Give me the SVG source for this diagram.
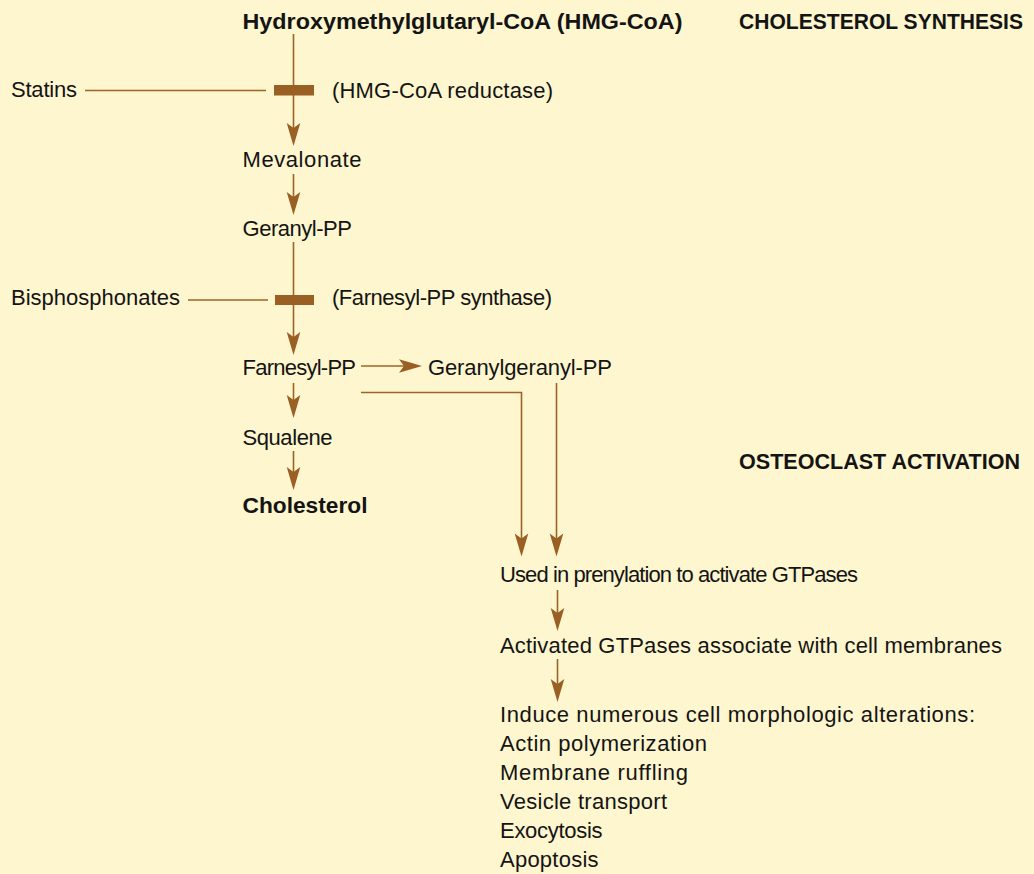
<svg xmlns="http://www.w3.org/2000/svg" width="1034" height="874" viewBox="0 0 1034 874">
<style>
  text { font-family: "Liberation Sans", Arial, sans-serif; font-size: 22px; fill: #141414; }
  .b { font-weight: bold; }
  .ln { stroke: #9C6426; stroke-width: 1.6; fill: none; }
  .bar { fill: #9A5F22; }
</style>
<defs>
  <marker id="ah" viewBox="-24 -8 26 16" refX="-10" refY="0" markerWidth="26" markerHeight="16" markerUnits="userSpaceOnUse" orient="auto">
    <path d="M0,0 L-23,-6.8 L-18,0 L-23,6.8 Z" fill="#9A5F22"/>
  </marker>
</defs>
<rect width="1034" height="874" fill="#FEF6CE"/>

<g id="connectors">
  <line class="ln" x1="293.5" y1="34" x2="293.5" y2="136" marker-end="url(#ah)"/>
  <line class="ln" x1="85" y1="90.5" x2="266" y2="90.5"/>
  <line class="ln" x1="293.5" y1="174" x2="293.5" y2="205" marker-end="url(#ah)"/>
  <line class="ln" x1="293.5" y1="242" x2="293.5" y2="345" marker-end="url(#ah)"/>
  <line class="ln" x1="188" y1="300" x2="268" y2="300"/>
  <line class="ln" x1="293.5" y1="383" x2="293.5" y2="408" marker-end="url(#ah)"/>
  <line class="ln" x1="293.5" y1="451" x2="293.5" y2="480" marker-end="url(#ah)"/>
  <line class="ln" x1="361" y1="366" x2="412" y2="366" marker-end="url(#ah)"/>
  <path class="ln" d="M361,392.5 H521.5 V546.5" marker-end="url(#ah)"/>
  <line class="ln" x1="556.5" y1="383" x2="556.5" y2="546.5" marker-end="url(#ah)"/>
  <line class="ln" x1="557.5" y1="590" x2="557.5" y2="621" marker-end="url(#ah)"/>
  <line class="ln" x1="557.5" y1="659" x2="557.5" y2="692" marker-end="url(#ah)"/>
</g>

<g id="inhibitors">
  <rect id="bar-hmg" class="bar" x="274" y="85" width="40" height="10.5"/>
  <rect id="bar-fpp" class="bar" x="275" y="295" width="39" height="10"/>
</g>

<g id="headers">
  <text class="b" x="739" y="29" textLength="284" lengthAdjust="spacingAndGlyphs">CHOLESTEROL SYNTHESIS</text>
  <text class="b" x="739" y="469" textLength="281" lengthAdjust="spacingAndGlyphs">OSTEOCLAST ACTIVATION</text>
</g>

<g id="hmgcoa"><text class="b" x="242.5" y="28.5" textLength="440" lengthAdjust="spacingAndGlyphs">Hydroxymethylglutaryl-CoA (HMG-CoA)</text></g>
<g id="statins"><text x="11" y="97" textLength="66" lengthAdjust="spacing">Statins</text></g>
<g id="hmg-reductase"><text x="332" y="97.5" textLength="221" lengthAdjust="spacing">(HMG-CoA reductase)</text></g>
<g id="mevalonate"><text x="242.5" y="167" textLength="119" lengthAdjust="spacing">Mevalonate</text></g>
<g id="geranyl-pp"><text x="242.5" y="236" textLength="109.5" lengthAdjust="spacing">Geranyl-PP</text></g>
<g id="bisphosphonates"><text x="11" y="305" textLength="169" lengthAdjust="spacing">Bisphosphonates</text></g>
<g id="fpp-synthase"><text x="332" y="305" textLength="220" lengthAdjust="spacing">(Farnesyl-PP synthase)</text></g>
<g id="farnesyl-pp"><text x="242.5" y="375" textLength="113.5" lengthAdjust="spacing">Farnesyl-PP</text></g>
<g id="geranylgeranyl-pp"><text x="428" y="375" textLength="184" lengthAdjust="spacing">Geranylgeranyl-PP</text></g>
<g id="squalene"><text x="242.5" y="445" textLength="90" lengthAdjust="spacing">Squalene</text></g>
<g id="cholesterol"><text class="b" x="242.5" y="513" textLength="125" lengthAdjust="spacingAndGlyphs">Cholesterol</text></g>
<g id="prenylation"><text x="500" y="582" textLength="358" lengthAdjust="spacing">Used in prenylation to activate GTPases</text></g>
<g id="gtpases"><text x="500" y="652.5" textLength="502" lengthAdjust="spacing">Activated GTPases associate with cell membranes</text></g>
<g id="alterations">
  <text x="500" y="722" textLength="475" lengthAdjust="spacing">Induce numerous cell morphologic alterations:</text>
  <text x="500" y="751" textLength="207" lengthAdjust="spacing">Actin polymerization</text>
  <text x="500" y="780" textLength="188" lengthAdjust="spacing">Membrane ruffling</text>
  <text x="500" y="809" textLength="167" lengthAdjust="spacing">Vesicle transport</text>
  <text x="500" y="838" textLength="102.5" lengthAdjust="spacing">Exocytosis</text>
  <text x="500" y="866.5" textLength="98.5" lengthAdjust="spacing">Apoptosis</text>
</g>
</svg>
